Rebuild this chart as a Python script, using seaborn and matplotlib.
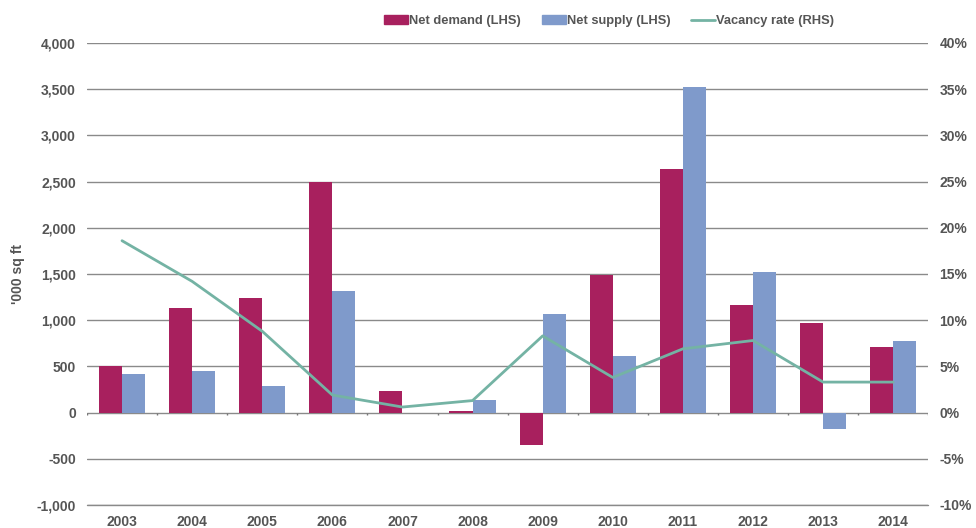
import numpy as np
import pandas as pd
import matplotlib
matplotlib.use("Agg")
from matplotlib import pyplot as plt
from matplotlib.patches import Patch
from matplotlib.lines import Line2D
from matplotlib.ticker import FuncFormatter
import seaborn as sns

years = ["2003", "2004", "2005", "2006", "2007", "2008",
         "2009", "2010", "2011", "2012", "2013", "2014"]
net_demand = [500, 1130, 1240, 2500, 235, 20, -355, 1490, 2640, 1160, 965, 705]
net_supply = [415, 450, 285, 1320, 0, 135, 1065, 610, 3520, 1520, -180, 770]
vacancy = [18.6, 14.2, 8.8, 1.9, 0.6, 1.3, 8.3, 3.8, 6.9, 7.8, 3.3, 3.3]

c_demand = "#A8205E"
c_supply = "#7F9ACB"
c_line = "#74B3A4"
c_text = "#555555"
c_grid = "#8a8a8a"

sns.set_theme(style="white")
plt.rcParams["font.family"] = ["Liberation Sans", "DejaVu Sans"]
plt.rcParams["font.weight"] = "bold"

df = pd.DataFrame({
    "year": years * 2,
    "value": net_demand + net_supply,
    "series": ["Net demand (LHS)"] * len(years) + ["Net supply (LHS)"] * len(years),
})

fig = plt.figure(figsize=(9.76, 5.28), dpi=100)
ax = fig.add_axes([0.0891, 0.0436, 0.862, 0.875])

sns.barplot(data=df, x="year", y="value", hue="series",
            palette=[c_demand, c_supply], width=0.66, saturation=1,
            ax=ax, legend=False, edgecolor="none")

ax.set_ylim(-1000, 4000)
ax.set_xlim(-0.5, len(years) - 0.5)
ax.set_yticks(np.arange(-1000, 4001, 500))
ax.yaxis.set_major_formatter(FuncFormatter(lambda v, p: f"{int(v):,}"))
ax.set_axisbelow(True)
ax.yaxis.grid(True, color=c_grid, linewidth=1)
ax.xaxis.grid(False)
ax.axhline(-1000, color=c_grid, linewidth=1, clip_on=False, zorder=0)
for s in ax.spines.values():
    s.set_visible(False)
ax.tick_params(axis="both", length=0, labelsize=10, labelcolor=c_text, pad=8)
ax.tick_params(axis="x", pad=7)
ax.set_xlabel("")
ax.set_ylabel("'000 sq ft", fontsize=10, color=c_text, fontweight="bold", labelpad=8)

# category boundary ticks on the zero line
bounds = np.arange(len(years) + 1) - 0.5
ax.vlines(bounds, -30, 0, color="#777777", linewidth=1)

ax2 = ax.twinx()
sns.lineplot(x=np.arange(len(years)), y=vacancy, color=c_line, linewidth=2, ax=ax2)
ax2.set_ylim(-10, 40)
ax2.set_yticks(np.arange(-10, 41, 5))
ax2.yaxis.set_major_formatter(FuncFormatter(lambda v, p: f"{int(v)}%"))
for s in ax2.spines.values():
    s.set_visible(False)
ax2.tick_params(axis="y", length=0, labelsize=10, labelcolor=c_text, pad=8)
ax2.grid(False)

handles = [Patch(color=c_demand, label="Net demand (LHS)"),
           Patch(color=c_supply, label="Net supply (LHS)"),
           Line2D([], [], color=c_line, linewidth=2, label="Vacancy rate (RHS)")]
fig.legend(handles=handles, loc="center right", bbox_to_anchor=(0.855, 0.96),
           ncol=3, frameon=False, fontsize=9.3, handlelength=1.85, handleheight=0.6,
           handletextpad=0.1, columnspacing=1.6, labelcolor=c_text,
           borderaxespad=0, borderpad=0)

fig.savefig("out.png", dpi=100)
